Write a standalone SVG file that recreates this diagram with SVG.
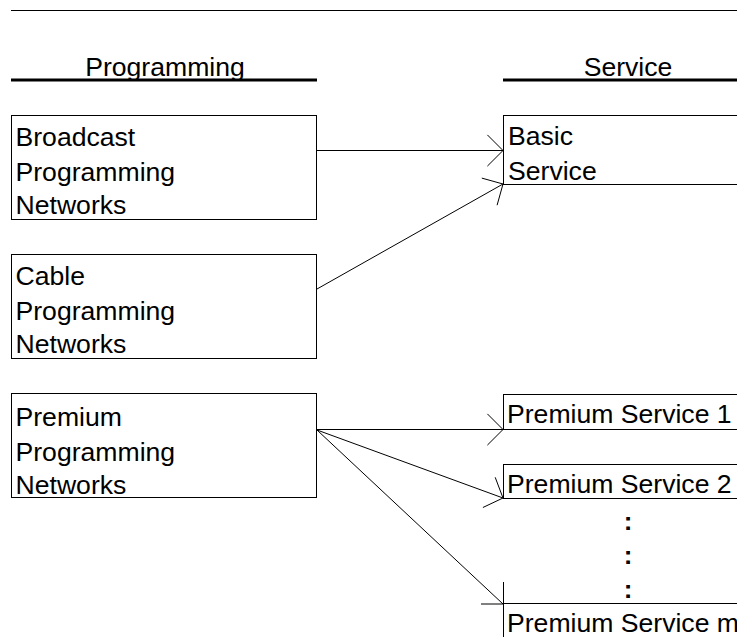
<svg xmlns="http://www.w3.org/2000/svg" width="737" height="637" viewBox="0 0 737 637">
<style>
.t{font-family:"Liberation Sans",Arial,sans-serif;font-size:26.6px;fill:#000}
.h{text-anchor:middle}
.box{fill:#fff;stroke:#000;stroke-width:1}
.rule{stroke:#000;stroke-width:1;fill:none}
.thick{stroke:#000;stroke-width:3;fill:none}
.c{stroke:#000;stroke-width:1;fill:none}
.dot{font-family:"Liberation Sans",Arial,sans-serif;font-size:26px;font-weight:bold;text-anchor:middle}
</style>
<rect width="737" height="637" fill="#fff"/>
<g id="header">
<line class="rule" x1="11" y1="10.5" x2="737" y2="10.5"/>
<line class="thick" x1="11" y1="80" x2="317" y2="80"/>
<line class="thick" x1="503" y1="80" x2="737" y2="80"/>
<text class="t h" x="165" y="76">Programming</text>
<text class="t h" x="628" y="76">Service</text>
</g>
<g id="broadcast">
<rect class="box" x="11.5" y="115.5" width="305" height="104"/>
<text class="t" x="15.5" y="146">Broadcast</text>
<text class="t" x="15.5" y="181">Programming</text>
<text class="t" x="15.5" y="214">Networks</text>
</g>
<g id="cable">
<rect class="box" x="11.5" y="254.5" width="305" height="104"/>
<text class="t" x="15.5" y="285">Cable</text>
<text class="t" x="15.5" y="320">Programming</text>
<text class="t" x="15.5" y="353">Networks</text>
</g>
<g id="premium">
<rect class="box" x="11.5" y="393.5" width="305" height="104"/>
<text class="t" x="15.5" y="426">Premium</text>
<text class="t" x="15.5" y="461">Programming</text>
<text class="t" x="15.5" y="494">Networks</text>
</g>
<g id="basic">
<rect class="box" x="503.5" y="115.5" width="260" height="69"/>
<text class="t" x="508" y="145">Basic</text>
<text class="t" x="508" y="180">Service</text>
</g>
<g id="ps1">
<rect class="box" x="503.5" y="394.5" width="260" height="35"/>
<text class="t" x="507" y="423">Premium Service 1</text>
</g>
<g id="ps2">
<rect class="box" x="503.5" y="464.5" width="260" height="34"/>
<text class="t" x="507" y="493">Premium Service 2</text>
</g>
<g id="psm">
<rect class="box" x="503.5" y="603.5" width="260" height="60"/>
<text class="t" x="507" y="632">Premium Service m</text>
</g>
<g id="dots">
<text class="dot" x="628" y="530">:</text>
<text class="dot" x="628" y="564">:</text>
<text class="dot" x="628" y="598">:</text>
</g>
<g id="connectors">
<line class="c" x1="317" y1="150.5" x2="503" y2="150.5"/>
<polyline class="c" points="487.4,134.9 503,150.5 487.4,166.1"/>
<line class="c" x1="317" y1="289" x2="503" y2="184"/>
<polyline class="c" points="481.8,178.1 503,184 497.1,205.2"/>
<line class="c" x1="317" y1="429.5" x2="503" y2="429.5"/>
<polyline class="c" points="487.4,413.9 503,429.5 487.4,445.1"/>
<line class="c" x1="317" y1="430" x2="503" y2="498"/>
<polyline class="c" points="495.2,477.3 503,498 482.9,507.5"/>
<line class="c" x1="317" y1="430" x2="503" y2="604"/>
<polyline class="c" points="503.5,582 503.5,604 481,604"/>
</g>
</svg>
